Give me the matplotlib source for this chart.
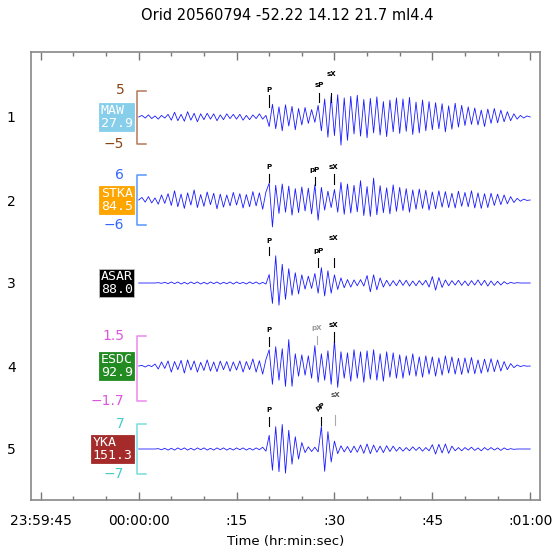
import numpy as np
import matplotlib.pyplot as plt

# Event header
title = "Orid 20560794 -52.22 14.12 21.7 ml4.4"

# Stations, one row each
stations = ["MAW", "STKA", "ASAR", "ESDC", "YKA"]
distances = ["27.9", "84.5", "88.0", "92.9", "151.3"]
rows = [1, 2, 3, 4, 5]

# Amplitude range shown by the bracket (None = no bracket)
range_top = ["5", "6", None, "1.5", "7"]
range_bot = ["\u22125", "\u22126", None, "\u22121.7", "\u22127"]
range_top_val = [5, 6, None, 1.5, 7]
range_bot_val = [-5, -6, None, -1.7, -7]

# Waveforms, samples every 0.5 s from 00:00:00 to 00:01:00
sample_interval = 0.5
maw = [
    0.0, 0.3, -0.2, 0.4, -0.3, 0.2, -0.4, 0.3, -0.2, 0.5,
    -0.6, 0.9, -0.7, 0.5, -0.8, 1.0, -0.6, 0.7, -0.9, 0.6,
    -0.5, 0.7, -0.4, 0.6, -0.7, 0.4, -0.5, 0.6, -0.3, 0.5,
    -0.4, 0.5, -0.6, 0.3, -0.5, 0.4, -0.3, 0.6, -0.4, 0.3,
    -1.8, 2.4, -2.2, 1.9, -2.6, 2.3, -1.7, 2.0, -2.4, 1.6,
    -1.5, 1.8, -1.2, 1.4, -1.0, 2.2, -2.6, 3.4, -3.8, 4.0,
    -3.5, 4.2, -5.3, 3.6, -4.4, 3.9, -3.2, 4.1, -3.6, 3.3,
    -3.9, 3.5, -3.0, 3.8, -3.4, 2.9, -3.7, 3.2, -2.8, 3.6,
    -3.1, 3.4, -2.7, 3.7, -3.3, 2.8, -3.0, 3.2, -2.6, 2.9,
    -2.4, 2.7, -2.2, 2.5, -2.8, 2.1, -2.3, 2.6, -1.9, 2.2,
    -1.6, 1.9, -1.4, 1.7, -1.5, 1.3, -1.8, 1.5, -1.2, 1.6,
    -1.1, 1.3, -0.9, 1.0, -0.7, 0.6, -0.4, 0.3, -0.2, 0.2, 0.0,
]
stka = [
    0.0, 0.6, -0.5, 0.8, -0.7, 0.5, -1.0, 1.2, -0.8, 1.5,
    -1.3, 2.2, -1.6, 1.4, -2.0, 1.7, -1.2, 2.4, -1.8, 1.3,
    -1.5, 1.9, -1.1, 1.6, -2.1, 1.4, -1.7, 1.2, -1.4, 1.8,
    -1.2, 1.5, -1.9, 1.3, -1.6, 2.0, -1.4, 1.7, -2.2, 1.9,
    4.0, -6.4, 3.5, -3.2, 3.8, -2.9, 3.3, -3.6, 2.7, -3.0,
    3.1, -2.6, 2.8, -3.3, 3.6, -4.8, 3.0, -2.4, 2.1, -1.8,
    2.5, -2.9, 4.2, -3.4, 3.8, -3.1, 3.5, -2.8, 4.6, -3.7,
    3.2, -3.9, 5.2, -3.5, 3.4, -3.0, 2.9, -3.3, 3.6, -2.7,
    3.0, -2.5, 2.7, -2.9, 2.4, -2.2, 2.6, -2.0, 2.3, -2.4,
    1.9, -2.1, 2.2, -1.7, 2.0, -1.8, 1.6, -1.9, 2.1, -1.5,
    1.8, -1.6, 2.2, -1.9, 1.7, -2.0, 1.5, -1.8, 1.6, -1.3,
    1.4, -1.1, 1.2, -0.9, 0.8, -0.6, 0.4, -0.3, 0.2, -0.1, 0.0,
]
asar = [
    0.0, 0.0, 0.0, 0.0, 0.0, 0.0, 0.1, -0.1, 0.2, -0.2,
    0.3, -0.2, 0.3, -0.3, 0.2, -0.3, 0.3, -0.2, 0.3, -0.3,
    0.2, -0.3, 0.3, -0.2, 0.3, -0.3, 0.2, -0.2, 0.3, -0.3,
    0.3, -0.2, 0.2, -0.3, 0.3, -0.2, 0.3, -0.3, 0.2, -0.3,
    2.5, -6.0, 8.0, -6.5, 5.5, -4.8, 4.2, -3.6, 3.0, -3.2,
    2.4, -1.8, 2.0, -1.6, 2.8, -3.0, 4.5, -3.8, 3.6, -3.0,
    2.4, -1.9, 1.5, -1.4, 1.0, -1.2, 0.9, -0.8, 1.0, -0.9,
    2.2, -2.6, 2.4, -2.0, 1.5, -1.2, 0.8, -0.9, 0.7, -0.8,
    0.9, -0.7, 0.8, -0.9, 0.6, -0.8, 0.7, -0.6, 0.8, -1.2,
    1.9, -2.1, 1.6, -1.3, 0.9, -0.8, 0.7, -0.6, 0.8, -0.7,
    0.6, -0.8, 0.7, -0.6, 0.9, -0.7, 0.8, -0.9, 0.6, -0.7,
    0.5, -0.6, 0.4, -0.3, 0.2, -0.1, 0.1, 0.0, 0.0, 0.0, 0.0,
]
esdc = [
    0.0, 0.03, -0.05, 0.04, -0.03, 0.1, -0.15, 0.2, -0.12, 0.25,
    -0.3, 0.22, -0.18, 0.28, -0.35, 0.3, -0.2, 0.25, -0.3, 0.18,
    -0.22, 0.3, -0.25, 0.2, -0.28, 0.24, -0.18, 0.22, -0.26, 0.2,
    -0.2, 0.25, -0.3, 0.22, -0.18, 0.35, -0.3, 0.26, -0.4, 0.32,
    0.8, -0.9, 0.95, -0.7, 0.85, -1.0, 1.3, -1.0, 0.6, -0.5,
    0.55, -0.45, 0.5, -0.6, 1.0, -0.8, 0.6, -0.7, 0.75, -0.9,
    1.25, -1.05, 0.7, -0.6, 0.65, -0.75, 0.8, -0.6, 0.7, -0.8,
    0.75, -0.65, 0.8, -0.7, 0.6, -0.75, 0.7, -0.55, 0.65, -0.6,
    0.55, -0.6, 0.5, -0.45, 0.6, -0.5, 0.45, -0.55, 0.5, -0.4,
    0.45, -0.5, 0.4, -0.45, 0.5, -0.35, 0.45, -0.4, 0.38, -0.42,
    0.4, -0.35, 0.42, -0.38, 0.3, -0.36, 0.34, -0.3, 0.36, -0.28,
    0.3, -0.25, 0.22, -0.18, 0.12, -0.08, 0.05, -0.03, 0.02, -0.01, 0.0,
]
yka = [
    0.0, 0.0, 0.0, 0.0, 0.0, 0.0, 0.1, -0.2, 0.2, -0.3,
    0.2, -0.3, 0.3, -0.2, 0.3, -0.3, 0.2, -0.3, 0.3, -0.2,
    0.3, -0.3, 0.2, -0.3, 0.3, -0.2, 0.3, -0.3, 0.2, -0.3,
    0.3, -0.2, 0.3, -0.3, 0.2, -0.3, 0.3, -0.2, 0.5, -0.6,
    3.8, -5.9, 6.2, -6.3, 6.8, -6.7, 5.2, -4.2, 3.4, -2.8,
    1.8, -1.0, 0.6, -0.7, 0.5, -0.8, 6.3, -6.2, 4.8, -3.6,
    2.2, -1.3, 0.9, -0.8, 0.7, -1.0, 0.8, -0.9, 1.1, -1.2,
    1.4, -1.3, 1.1, -0.9, 0.8, -1.0, 0.9, -0.7, 0.8, -0.6,
    0.5, -0.6, 0.4, -0.5, 0.6, -0.4, 0.5, -0.6, 0.4, -0.5,
    1.2, -1.4, 1.3, -1.1, 1.4, -1.2, 0.8, -0.5, 0.4, -0.5,
    0.4, -0.3, 0.5, -0.4, 0.3, -0.5, 0.4, -0.3, 0.4, -0.3,
    0.3, -0.4, 0.3, -0.2, 0.1, -0.1, 0.0, 0.0, 0.0, 0.0, 0.0,
]
waveforms = [maw, stka, asar, esdc, yka]

# Phase picks (seconds after 00:00:00)
pick_phases = [["P", "sP", "sX"], ["P", "pP", "sX"], ["P", "pP", "sX"],
               ["P", "pX", "sX"], ["P", "pP", "sX"]]
pick_times = [[20.0, 27.7, 29.5], [20.0, 27.0, 29.9], [20.0, 27.5, 29.9],
              [20.0, 27.3, 29.9], [20.0, 27.9, 30.1]]

# Time axis
tick_times = [-15, 0, 15, 30, 45, 60]
tick_labels = ["23:59:45", "00:00:00", ":15", ":30", ":45", ":01:00"]

# ---- styling / layout ----
box_colors = ["#87ceeb", "#ffa500", "#000000", "#228b22", "#a52a2a"]
bracket_colors = ["#b4785a", "#5a96ff", None, "#ee88ee", "#77dddd"]
range_text_colors = ["#8b4513", "#3366ff", None, "#dd55dd", "#44cccc"]
row_px = 83.0
gain_px = [5.3, 4.2, 3.4, 20.3, 3.6]   # pixels per amplitude unit
# pick marks: (tick top, tick bottom, label) in pixels relative to trace centre
pick_layout = [
    [(-22, -10, -27), (-24, -15, -32), (-24, -15, -43)],
    [(-26, -18, -33), (-23, -15, -30), (-26, -16, -33)],
    [(-36, -28, -42), (-25, -16, -32), (-25, -16, -45)],
    [(-29, -20, -36), (-30, -22, -38), (-34, -24, -41)],
    [(-32, -23, -39), (-32, -24, -42), (-34, -24, -54)],
]
tick_colors = [["k", "k", "k"], ["k", "k", "k"], ["k", "k", "k"],
               ["k", "#aaaaaa", "k"], ["k", "k", "#aaaaaa"]]
label_colors = [["k", "k", "k"], ["k", "k", "k"], ["k", "k", "k"],
                ["k", "#999999", "k"], ["k", "k", "#555555"]]

fig = plt.figure(figsize=(5.57, 5.52), dpi=100)
ax = fig.add_axes([31 / 557, 1 - 500 / 552, (540 - 31) / 557, (500 - 52) / 552])

for i, row in enumerate(rows):
    vals = np.array(waveforms[i])
    times = np.arange(len(vals)) * sample_interval
    g = gain_px[i] / row_px
    ax.plot(times, row - vals * g, color="#1a1aff", lw=0.6, zorder=3)

    # station box
    ax.text(-0.9, row, stations[i] + "\n" + distances[i], ha="right", va="center",
            family="DejaVu Sans Mono", fontsize=9.5, color="white", linespacing=0.95,
            multialignment="left",
            bbox=dict(boxstyle="square,pad=0.12", fc=box_colors[i],
                      ec="#bbbbbb" if i == 2 else box_colors[i], lw=0.6),
            zorder=4)

    # amplitude bracket
    if range_top_val[i] is not None:
        yt = row - range_top_val[i] * g
        yb = row - range_bot_val[i] * g
        ax.plot([1.1, -0.3, -0.3, 1.1], [yt, yt, yb, yb],
                color=bracket_colors[i], lw=1.1, zorder=2)
        ax.text(-2.2, yt, range_top[i], ha="right", va="center",
                color=range_text_colors[i], fontsize=10)
        ax.text(-2.2, yb, range_bot[i], ha="right", va="center",
                color=range_text_colors[i], fontsize=10)

    # phase picks
    for j, ph in enumerate(pick_phases[i]):
        t = pick_times[i][j]
        top, bot, lab = pick_layout[i][j]
        ax.plot([t, t], [row + top / row_px, row + bot / row_px],
                color=tick_colors[i][j], lw=0.8, zorder=3)
        rot = 30 if (i == 4 and j == 1) else 0
        ax.text(t, row + lab / row_px, ph, ha="center", va="center",
                fontsize=5, fontweight="bold", color=label_colors[i][j], rotation=rot)

ax.set_xlim(-16.5, 61.5)
ax.set_ylim(1 + (500 - 117) / row_px, 1 - (117 - 52) / row_px)

ax.set_xticks(tick_times)
ax.set_xticklabels(tick_labels)
ax.set_xticks(np.arange(-15, 61, 5), minor=True)
ax.tick_params(axis="x", which="both", direction="in", top=True, bottom=True,
               color="#777777", labelsize=10, pad=10)
ax.tick_params(axis="x", which="major", length=6, width=1)
ax.tick_params(axis="x", which="minor", length=3, width=1)

ax.set_yticks(rows)
ax.set_yticklabels([str(r) for r in rows])
ax.tick_params(axis="y", length=0, pad=11, labelsize=10)

for sp in ax.spines.values():
    sp.set_color("#888888")
    sp.set_linewidth(1.2)

ax.set_xlabel("Time (hr:min:sec)", fontsize=9.5, labelpad=5)
fig.text(287 / 557, 1 - 16 / 552, title, ha="center", va="center", fontsize=10.5)

fig.savefig("out.png", dpi=100)
